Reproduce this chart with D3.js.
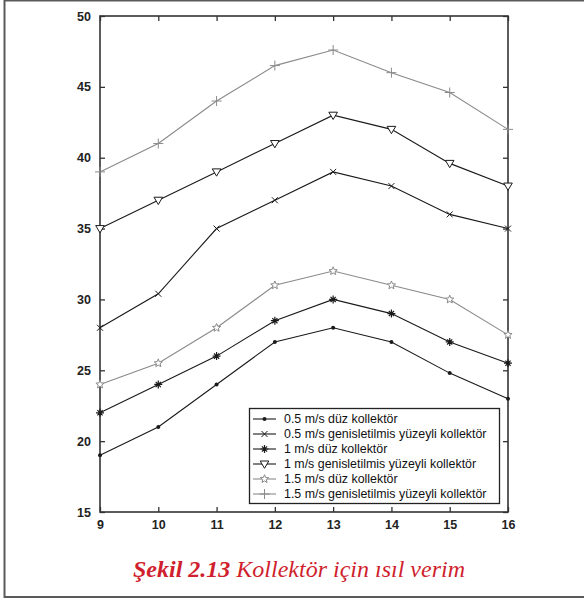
<!DOCTYPE html>
<html><head><meta charset="utf-8">
<script src="https://cdn.jsdelivr.net/npm/d3@7"></script>
<style>body{margin:0;background:#fff}svg{display:block}</style>
</head><body>
<script>
const xValues = [9, 10, 11, 12, 13, 14, 15, 16];
const yTicks = [15, 20, 25, 30, 35, 40, 45, 50];
const seriesNames = [
  "0.5 m/s düz kollektör",
  "0.5 m/s genisletilmis yüzeyli kollektör",
  "1 m/s düz kollektör",
  "1 m/s genisletilmis yüzeyli kollektör",
  "1.5 m/s düz kollektör",
  "1.5 m/s genisletilmis yüzeyli kollektör"
];
const s05duz = [19, 21, 24, 27, 28, 27, 24.8, 23];
const s05gen = [28, 30.4, 35, 37, 39, 38, 36, 35];
const s1duz = [22, 24, 26, 28.5, 30, 29, 27, 25.5];
const s1gen = [35, 37, 39, 41, 43, 42, 39.6, 38];
const s15duz = [24, 25.5, 28, 31, 32, 31, 30, 27.5];
const s15gen = [39, 41, 44, 46.5, 47.6, 46, 44.6, 42];
const seriesValues = [s05duz, s05gen, s1duz, s1gen, s15duz, s15gen];
const markerTypes = ["dot", "x", "asterisk", "triangle", "star", "plus"];
const colors = ["#1a1a1a", "#1a1a1a", "#1a1a1a", "#1a1a1a", "#8a8a8a", "#8a8a8a"];
const caption = {bold: "Şekil 2.13", rest: " Kollektör için ısıl verim"};

const W = 584, H = 600;
const svg = d3.select("body").append("svg").attr("width", W).attr("height", H);

// outer frame
svg.append("rect").attr("x", 4.5).attr("y", 0.5).attr("width", 640).attr("height", 596.5)
  .attr("fill", "none").attr("stroke", "#5a5a5a").attr("stroke-width", 2);

const L = 100, R = 508, T = 16, B = 512;
const x = d3.scaleLinear().domain([9, 16]).range([L, R]);
const y = d3.scaleLinear().domain([15, 50]).range([B, T]);

const axisColor = "#333";
const g = svg.append("g");

const tl = 5;
const fontAx = "bold 12.5px 'Liberation Sans', Arial, sans-serif";
const ax = g.append("g").attr("transform", `translate(0,${B})`)
  .call(d3.axisBottom(x).tickValues(xValues).tickFormat(d3.format("d")).tickSizeInner(-tl).tickSizeOuter(0).tickPadding(8));
const axT = g.append("g").attr("transform", `translate(0,${T})`)
  .call(d3.axisTop(x).tickValues(xValues).tickFormat("").tickSizeInner(-tl).tickSizeOuter(0));
const ay = g.append("g").attr("transform", `translate(${L},0)`)
  .call(d3.axisLeft(y).tickValues(yTicks).tickFormat(d3.format("d")).tickSizeInner(-tl).tickSizeOuter(0).tickPadding(9));
const ayR = g.append("g").attr("transform", `translate(${R},0)`)
  .call(d3.axisRight(y).tickValues(yTicks).tickFormat("").tickSizeInner(-tl).tickSizeOuter(0));
[ax, axT, ay, ayR].forEach(a => {
  a.select(".domain").remove();
  a.selectAll(".tick line").attr("stroke", axisColor).attr("stroke-width", 1.3);
  a.selectAll("text").attr("fill", "#222").style("font", fontAx);
});
g.append("rect").attr("x", L).attr("y", T).attr("width", R - L).attr("height", B - T)
  .attr("fill", "none").attr("stroke", axisColor).attr("stroke-width", 1.6);

function drawMarker(sel, type, cx, cy, color) {
  const m = sel.append("g").attr("transform", `translate(${cx},${cy})`);
  const path = (d) => m.append("path").attr("d", d).attr("stroke", color).attr("stroke-width", 1).attr("fill", "none");
  if (type === "dot") {
    m.append("circle").attr("r", 2).attr("fill", color);
  } else if (type === "x") {
    path("M-3,-3L3,3M-3,3L3,-3");
  } else if (type === "asterisk") {
    path("M-4,0L4,0M0,-4L0,4M-2.6,-2.6L2.6,2.6M-2.6,2.6L2.6,-2.6").attr("stroke-width", 1.2);
  } else if (type === "triangle") {
    path("M-4.3,-3L4.3,-3L0,4.3Z").attr("fill", "#fff");
  } else if (type === "star") {
    const pts = [];
    for (let i = 0; i < 10; i++) {
      const r = i % 2 === 0 ? 4.3 : 1.9;
      const a = -Math.PI / 2 + i * Math.PI / 5;
      pts.push([r * Math.cos(a), r * Math.sin(a)]);
    }
    path("M" + pts.map(p => p.join(",")).join("L") + "Z").attr("fill", "#fff");
  } else if (type === "plus") {
    path("M-5,0L5,0M0,-5L0,5");
  }
}

const line = d3.line().x((d, i) => x(xValues[i])).y(d => y(d));
seriesValues.forEach((vals, si) => {
  const sg = g.append("g");
  sg.append("path").datum(vals).attr("d", line).attr("fill", "none")
    .attr("stroke", colors[si]).attr("stroke-width", 1.1);
  vals.forEach((v, i) => drawMarker(sg, markerTypes[si], x(xValues[i]), y(v), colors[si]));
});

// legend
const lg = svg.append("g");
const lx = 249.5, ly = 408.5, lw = 250, lh = 95;
lg.append("rect").attr("x", lx).attr("y", ly).attr("width", lw).attr("height", lh)
  .attr("fill", "#fff").attr("stroke", "#222").attr("stroke-width", 1.3);
seriesNames.forEach((name, i) => {
  const cy = 419 + i * 15;
  lg.append("line").attr("x1", 253).attr("x2", 276).attr("y1", cy).attr("y2", cy)
    .attr("stroke", colors[i]).attr("stroke-width", 1.1);
  drawMarker(lg, markerTypes[i], 264.5, cy, colors[i]);
  lg.append("text").attr("x", 284).attr("y", cy).attr("dy", "0.36em")
    .attr("fill", "#111").style("font", "12.4px 'Liberation Sans', Arial, sans-serif").text(name);
});

// caption
const cap = svg.append("text").attr("x", 299).attr("y", 577).attr("text-anchor", "middle")
  .attr("fill", "#d01f2e").style("font-family", "'Liberation Serif', 'Times New Roman', serif")
  .style("font-size", "24px").style("font-style", "italic");
cap.append("tspan").style("font-weight", "bold").text(caption.bold);
cap.append("tspan").text(caption.rest);
</script>
</body></html>
